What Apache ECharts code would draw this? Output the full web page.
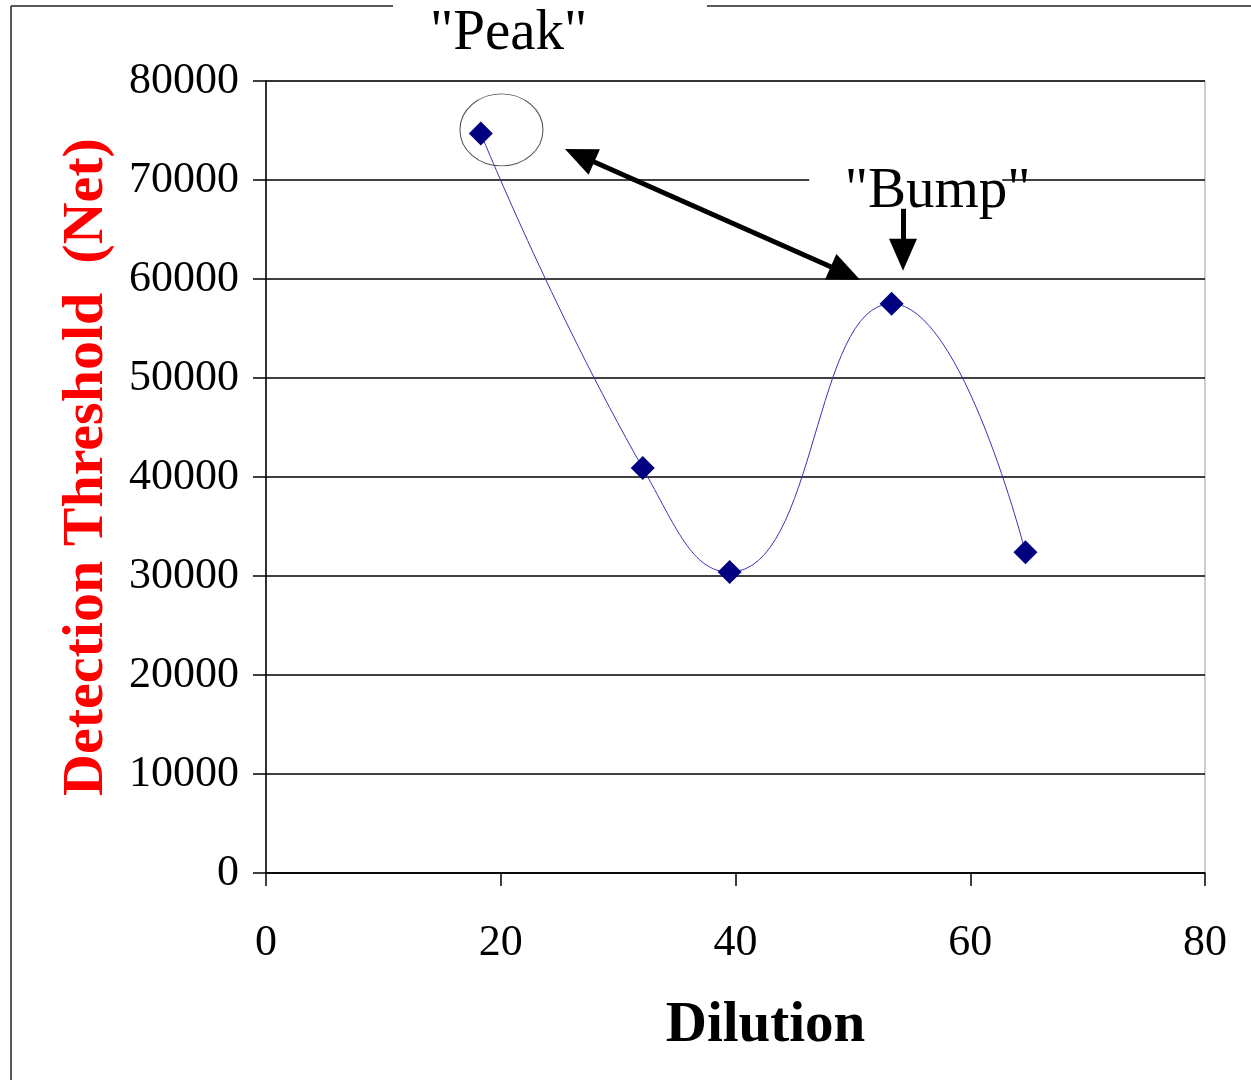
<!DOCTYPE html>
<html>
<head>
<meta charset="utf-8">
<script src="https://cdn.jsdelivr.net/npm/echarts@6/dist/echarts.min.js"></script>
<style>
  html, body { margin: 0; padding: 0; background: #fff; }
  #chart { width: 1251px; height: 1080px; }
</style>
</head>
<body>
<div id="chart"></div>
<script>
  // values
  var dilution = [18.3, 32.1, 39.5, 53.3, 64.7];
  var threshold = [74700, 40900, 30400, 57500, 32400];
  var xTicks = [0, 20, 40, 60, 80];
  var yTicks = [0, 10000, 20000, 30000, 40000, 50000, 60000, 70000, 80000];

  // annotation anchors in data units
  var peakRing = [20.06, 75060];
  var pairArrow = [[26.72, 72480], [49.36, 60580]];
  var bumpArrow = [[54.27, 67090], [54.27, 62450]];
  var bumpLabel = [54.5, 68800];

  var serif = '"Liberation Serif", "Times New Roman", serif';

  var points = dilution.map(function (x, i) { return [x, threshold[i]]; });

  var chart = echarts.init(document.getElementById('chart'));
  var option = {
    animation: false,
    title: {
      text: '"Peak"',
      left: 393,
      top: 0,
      padding: [6, 119, 2, 37],
      backgroundColor: '#fff',
      textStyle: { fontFamily: serif, fontSize: 57, fontWeight: 'normal', color: '#000' }
    },
    graphic: [
      { type: 'line', shape: { x1: 11, y1: 6, x2: 393, y2: 6 }, style: { stroke: '#222', lineWidth: 1.5 } },
      { type: 'line', shape: { x1: 707, y1: 6, x2: 1251, y2: 6 }, style: { stroke: '#222', lineWidth: 1.5 } },
      { type: 'line', shape: { x1: 11, y1: 6, x2: 11, y2: 1080 }, style: { stroke: '#222', lineWidth: 1.5 } }
    ],
    grid: {
      left: 266,
      right: 46,
      top: 81,
      bottom: 207,
      show: true,
      borderColor: '#999',
      borderWidth: 1
    },
    xAxis: {
      type: 'value',
      min: xTicks[0],
      max: xTicks[xTicks.length - 1],
      interval: 20,
      name: 'Dilution',
      nameLocation: 'middle',
      nameGap: 125,
      nameTextStyle: { fontFamily: serif, fontSize: 57, fontWeight: 'bold', color: '#000', padding: [0, 0, 0, 60] },
      axisLine: { lineStyle: { color: '#000', width: 1.5 } },
      axisTick: { show: true, length: 13, lineStyle: { color: '#000', width: 1.5 } },
      axisLabel: { fontFamily: serif, fontSize: 44, color: '#000', margin: 48 },
      splitLine: { show: false }
    },
    yAxis: {
      type: 'value',
      min: yTicks[0],
      max: yTicks[yTicks.length - 1],
      interval: 10000,
      name: 'Detection Threshold  (Net)',
      nameLocation: 'middle',
      nameGap: 150,
      nameTextStyle: { fontFamily: serif, fontSize: 58, fontWeight: 'bold', color: '#ff0000', padding: [0, 0, 0, 20] },
      axisLine: { lineStyle: { color: '#000', width: 1.5 } },
      axisTick: { show: true, inside: false, length: 13, lineStyle: { color: '#000', width: 1.5 } },
      axisLabel: {
        fontFamily: serif, fontSize: 44, color: '#000', margin: 27, padding: [6, 0, 0, 0],
        formatter: function (v) { return String(v); }
      },
      splitLine: { show: true, lineStyle: { color: '#000', width: 1.5 } }
    },
    series: [
      {
        type: 'line',
        data: points,
        smooth: 0.5,
        symbol: 'diamond',
        symbolSize: 24,
        lineStyle: { color: '#3535b0', width: 1 },
        itemStyle: { color: '#000080' },
        z: 3,
        markPoint: {
          silent: true,
          label: { show: false },
          data: [
            {
              coord: peakRing,
              symbol: 'circle',
              symbolSize: [83, 72],
              itemStyle: { color: 'rgba(0,0,0,0)', borderColor: '#555', borderWidth: 1 }
            },
            {
              coord: bumpLabel,
              symbol: 'rect',
              symbolSize: [193, 26],
              itemStyle: { color: '#fff' },
              label: {
                show: true,
                position: 'inside',
                offset: [32, 0],
                formatter: '"Bump"',
                fontFamily: serif,
                fontSize: 57,
                color: '#000'
              }
            }
          ]
        },
        markLine: {
          silent: true,
          symbol: ['triangle', 'triangle'],
          symbolSize: [28, 32],
          label: { show: false },
          lineStyle: { color: '#000', width: 5, type: 'solid' },
          data: [
            [{ coord: pairArrow[0] }, { coord: pairArrow[1] }],
            [{ coord: bumpArrow[0], symbol: 'none' }, { coord: bumpArrow[1], symbol: 'triangle', symbolSize: [28, 32] }]
          ]
        }
      }
    ]
  };
  chart.setOption(option);
</script>
</body>
</html>
